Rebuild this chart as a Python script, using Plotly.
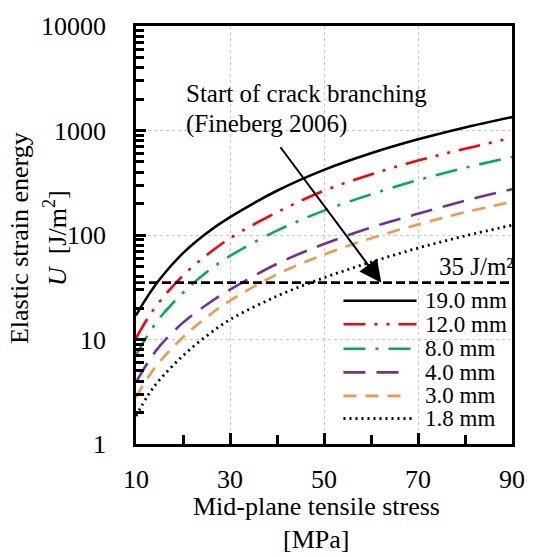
import math
import plotly.graph_objects as go

stress = [10, 12.5, 15, 20, 25, 30, 40, 50, 60, 70, 80, 90]
U_190 = [17, 26, 37.5, 67, 104, 148, 265, 420, 605, 823, 1070, 1345]
U_120 = [10.3, 16, 23, 41, 64, 93, 165, 265, 380, 515, 670, 850]
U_80 = [7.1, 11, 16, 28, 44, 63, 110, 171, 245, 335, 440, 558]
U_40 = [3.9, 6.0, 8.6, 14.5, 21.5, 30, 53, 82, 118, 160, 213, 274]
U_30 = [2.8, 4.3, 6.1, 10.5, 16.3, 23.5, 42, 65, 93, 126, 165, 208]
U_18 = [1.85, 2.9, 4.1, 7, 10.8, 15.5, 26, 39, 55, 75, 98, 124]
labels = ["19.0 mm", "12.0 mm", "8.0 mm", "4.0 mm", "3.0 mm", "1.8 mm"]
threshold = 35
arrow_tip_x = 62.2
arrow_tail = (40.5, 715)
x_major = [10, 30, 50, 70, 90]
x_minor = [20, 40, 60, 80]
y_major = [1, 10, 100, 1000, 10000]
y_minor = [m * d for d in (1, 10, 100, 1000) for m in range(2, 10)]

FONT = "Liberation Serif"
series = [U_190, U_120, U_80, U_40, U_30, U_18]
styles = [
    dict(color="black", width=2.6, dash="solid"),
    dict(color="#ff0000", width=2.6, dash="22px,9px,3px,9px,3px,9px"),
    dict(color="#00b050", width=2.6, dash="22px,10px,3px,10px"),
    dict(color="#7030a0", width=2.6, dash="22px,11px"),
    dict(color="#f79646", width=2.6, dash="13px,9px"),
    dict(color="black", width=2.8, dash="2px,4px"),
]

fig = go.Figure()
for ys, lab, st in zip(series, labels, styles):
    fig.add_trace(go.Scatter(x=stress, y=ys, mode="lines", name=lab,
                             line=dict(shape="spline", **st), showlegend=False))

# threshold line drawn on the overlay axes (which carry the minor ticks)
fig.add_trace(go.Scatter(x=[stress[0], stress[-1]], y=[threshold, threshold], mode="lines",
                         xaxis="x2", yaxis="y2",
                         line=dict(color="black", width=2.6, dash="9px,4px"), showlegend=False))

# white legend box (between grid and traces)
fig.add_shape(type="rect", xref="paper", yref="paper", x0=0.528, x1=0.994, y0=0.006, y1=0.366,
              fillcolor="white", line=dict(width=0), layer="between")

leg_y = [298, 322, 347, 371, 395, 418]
leg_x1 = [424, 424, 424, 414, 412, 422]
for i, (lab, st) in enumerate(zip(labels, styles)):
    yp = (444 - leg_y[i]) / 426
    fig.add_shape(type="line", xref="paper", yref="paper", x0=(349 - 136) / 386, x1=(leg_x1[i] - 136) / 386,
                  y0=yp, y1=yp, line=dict(color=st["color"], width=st["width"], dash=st["dash"]), layer="above")
    fig.add_annotation(xref="paper", yref="paper", x=(431 - 136) / 386, y=yp, text=lab, showarrow=False,
                       xanchor="left", yanchor="middle", font=dict(family=FONT, size=23, color="black"))

fig.add_annotation(xref="paper", yref="paper", x=(526 - 136) / 386, y=(444 - 263) / 426,
                   text="35 J/m²", showarrow=False, xanchor="right", yanchor="middle",
                   font=dict(family=FONT, size=25, color="black"))

for txt, yc in (("Start of crack branching", 87), ("(Fineberg 2006)", 118)):
    fig.add_annotation(xref="paper", yref="paper", x=(185 - 136) / 386, y=(444 - yc) / 426,
                       text=txt, showarrow=False, xanchor="left", yanchor="middle",
                       font=dict(family=FONT, size=25, color="black"))

fig.add_annotation(x=arrow_tip_x, y=math.log10(threshold), ax=arrow_tail[0], ay=math.log10(arrow_tail[1]),
                   xref="x", yref="y", axref="x", ayref="y", text="", showarrow=True,
                   arrowhead=2, arrowsize=2.2, arrowwidth=2, arrowcolor="black")

for txt, xc in (("Elastic strain energy", 17), ("<i>U</i>  [J/m<sup>2</sup>]", 54)):
    fig.add_annotation(xref="paper", yref="paper", x=(xc - 136) / 386, y=(444 - 234) / 426, textangle=-90,
                       text=txt, showarrow=False, xanchor="center", yanchor="middle",
                       font=dict(family=FONT, size=26, color="black"))

for txt, yc in (("Mid-plane tensile stress", 508), ("[MPa]", 541)):
    fig.add_annotation(xref="paper", yref="paper", x=(321 - 136) / 386, y=(444 - yc) / 426,
                       text=txt, showarrow=False, xanchor="center", yanchor="middle",
                       font=dict(family=FONT, size=26, color="black"))

common_grid = dict(showgrid=True, gridcolor="#c8c8c8", griddash="dot", gridwidth=1, zeroline=False)
fig.update_layout(
    xaxis=dict(range=[10, 90], tickmode="array", tickvals=x_major, ticks="inside", ticklen=11, tickwidth=2.5,
               tickcolor="black", showline=True, linecolor="black", linewidth=2.6, mirror=True,
               tickfont=dict(family=FONT, size=26, color="black"), ticklabelstandoff=10, **common_grid),
    yaxis=dict(type="log", range=[0, 4], tickmode="array", tickvals=y_major, ticktext=[str(v) for v in y_major],
               ticks="inside", ticklen=10, tickwidth=2.5, tickcolor="black", showline=True,
               linecolor="black", linewidth=2.6, mirror=True,
               tickfont=dict(family=FONT, size=26, color="black"), ticklabelstandoff=22, **common_grid),
    xaxis2=dict(overlaying="x", anchor="y", range=[10, 90], tickmode="array", tickvals=x_minor,
                ticks="inside", ticklen=9, tickwidth=2.5, tickcolor="black", showticklabels=False,
                showgrid=False, zeroline=False, showline=False, side="bottom"),
    yaxis2=dict(overlaying="y", anchor="x", type="log", range=[0, 4], tickmode="array", tickvals=y_minor,
                ticks="inside", ticklen=8, tickwidth=2.5, tickcolor="black", showticklabels=False,
                showgrid=False, zeroline=False, showline=False, side="left"),
    width=537, height=557, margin=dict(l=136, r=15, t=18, b=113),
    plot_bgcolor="white", paper_bgcolor="white", showlegend=False,
)

fig.write_html("out.html")
